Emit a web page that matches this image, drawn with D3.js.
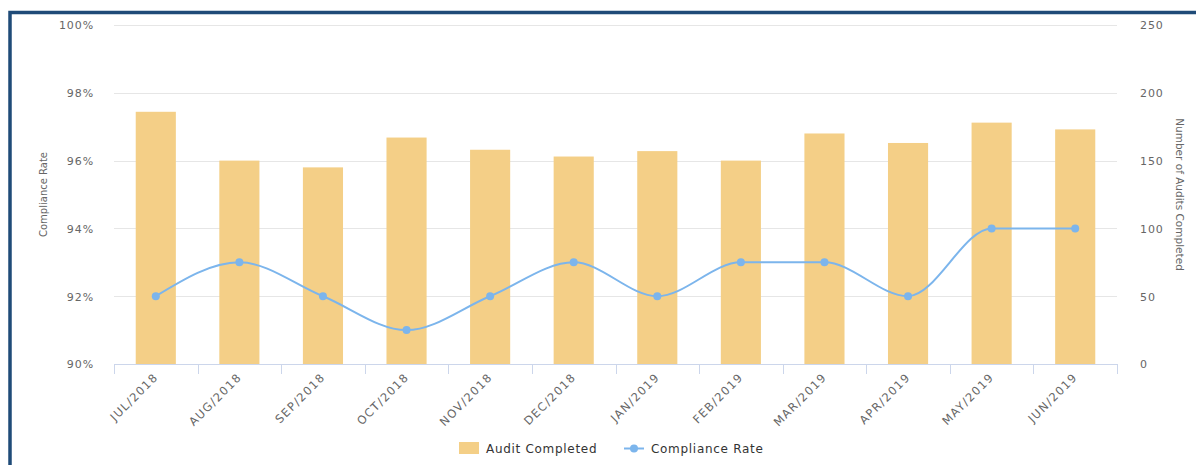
<!DOCTYPE html>
<html>
<head>
<meta charset="utf-8">
<script src="https://cdn.jsdelivr.net/npm/d3@7"></script>
<style>
  body { margin: 0; background: #fff; }
  svg { display: block; }
  text { font-family: "DejaVu Sans", sans-serif; }
</style>
</head>
<body>
<div id="chart"></div>
<script>
// data
const months = ["JUL/2018", "AUG/2018", "SEP/2018", "OCT/2018", "NOV/2018", "DEC/2018",
                "JAN/2019", "FEB/2019", "MAR/2019", "APR/2019", "MAY/2019", "JUN/2019"];
const auditsCompleted = [186, 150, 145, 167, 158, 153, 157, 150, 170, 163, 178, 173];
const complianceRate = [92, 93, 92, 91, 92, 93, 92, 93, 93, 92, 94, 94];
const rateTicks = [90, 92, 94, 96, 98, 100];
const auditTicks = [0, 50, 100, 150, 200, 250];

const width = 1196, height = 465;
const margin = { top: 25, right: 79, bottom: 101, left: 114 };

const svg = d3.select("#chart")
    .append("svg")
    .attr("width", width)
    .attr("height", height);

// dark frame around the widget (only left/top edges visible)
svg.append("rect")
    .attr("x", 10).attr("y", 12.5)
    .attr("width", width + 20).attr("height", height + 20)
    .attr("fill", "none")
    .attr("stroke", "#1f4b78")
    .attr("stroke-width", 3.5);

const x = d3.scaleBand()
    .domain(months)
    .range([margin.left, width - margin.right])
    .paddingInner(0.52)
    .paddingOuter(0.26);
const xOuter = d3.scaleBand()
    .domain(months)
    .range([margin.left, width - margin.right]);

const yRate = d3.scaleLinear()
    .domain([90, 100])
    .range([height - margin.bottom, margin.top]);
const yAudit = d3.scaleLinear()
    .domain([0, 250])
    .range([height - margin.bottom, margin.top]);

// grid lines
svg.append("g")
    .selectAll("line")
    .data(rateTicks.slice(1))
    .enter()
    .append("line")
    .attr("x1", margin.left)
    .attr("x2", width - margin.right)
    .attr("y1", d => Math.round(yRate(d)) + 0.5)
    .attr("y2", d => Math.round(yRate(d)) + 0.5)
    .attr("stroke", "#e6e6e6");

// bars
svg.append("g")
    .selectAll("rect")
    .data(auditsCompleted)
    .enter()
    .append("rect")
    .attr("x", (d, i) => x(months[i]))
    .attr("width", x.bandwidth())
    .attr("y", d => yAudit(d))
    .attr("height", d => yAudit(0) - yAudit(d))
    .attr("fill", "#f4cf87");

// x axis
const xAxis = d3.axisBottom(xOuter).tickSize(0);
const gx = svg.append("g")
    .attr("transform", `translate(0, ${height - margin.bottom})`)
    .call(xAxis);
gx.select(".domain").attr("stroke", "#ccd6eb");
gx.selectAll("text")
    .attr("fill", "#666")
    .attr("font-size", 11.5)
    .attr("letter-spacing", 1.3)
    .attr("text-anchor", "end")
    .attr("y", 0)
    .attr("dy", 0)
    .attr("transform", "translate(3, 14) rotate(-45)");
gx.selectAll(".boundary")
    .data(months.concat(["end"]))
    .enter()
    .append("line")
    .attr("class", "boundary")
    .attr("x1", (d, i) => Math.round(margin.left + i * xOuter.step()) + 0.5)
    .attr("x2", (d, i) => Math.round(margin.left + i * xOuter.step()) + 0.5)
    .attr("y1", 0)
    .attr("y2", 10)
    .attr("stroke", "#ccd6eb");

// left axis
const gl = svg.append("g")
    .attr("transform", `translate(${margin.left - 17}, 0)`)
    .call(d3.axisLeft(yRate).tickValues(rateTicks).tickSize(0).tickFormat(d => d + "%"));
gl.select(".domain").remove();
gl.selectAll("text")
    .attr("fill", "#666")
    .attr("font-size", 11)
    .attr("letter-spacing", 0.9)
    .attr("dy", "0.35em");

// right axis
const gr = svg.append("g")
    .attr("transform", `translate(${width - margin.right + 20}, 0)`)
    .call(d3.axisRight(yAudit).tickValues(auditTicks).tickSize(0));
gr.select(".domain").remove();
gr.selectAll("text")
    .attr("fill", "#666")
    .attr("font-size", 11)
    .attr("letter-spacing", 0.9)
    .attr("dy", "0.35em");

// axis titles
const midY = (margin.top + height - margin.bottom) / 2;
svg.append("text")
    .attr("transform", `translate(47, ${midY}) rotate(-90)`)
    .attr("text-anchor", "middle")
    .attr("font-size", 10)
    .attr("fill", "#666")
    .text("Compliance Rate");
svg.append("text")
    .attr("transform", `translate(1176, ${midY}) rotate(90)`)
    .attr("text-anchor", "middle")
    .attr("font-size", 10.5)
    .attr("fill", "#666")
    .text("Number of Audits Completed");

// compliance line
const line = d3.line()
    .x((d, i) => xOuter(months[i]) + xOuter.bandwidth() / 2)
    .y(d => yRate(d))
    .curve(d3.curveMonotoneX);
svg.append("path")
    .attr("d", line(complianceRate))
    .attr("fill", "none")
    .attr("stroke", "#7cb5ec")
    .attr("stroke-width", 2);
svg.append("g")
    .selectAll("circle")
    .data(complianceRate)
    .enter()
    .append("circle")
    .attr("cx", (d, i) => xOuter(months[i]) + xOuter.bandwidth() / 2)
    .attr("cy", d => yRate(d))
    .attr("r", 4)
    .attr("fill", "#7cb5ec");

// legend
const legend = svg.append("g").attr("transform", "translate(459, 442)");
legend.append("rect")
    .attr("width", 20).attr("height", 12)
    .attr("fill", "#f4cf87");
legend.append("text")
    .attr("x", 27).attr("y", 10.5)
    .attr("font-size", 12)
    .attr("fill", "#333")
    .attr("letter-spacing", 0.7)
    .text("Audit Completed");
legend.append("line")
    .attr("x1", 165).attr("x2", 185)
    .attr("y1", 6.5).attr("y2", 6.5)
    .attr("stroke", "#7cb5ec").attr("stroke-width", 2);
legend.append("circle")
    .attr("cx", 175).attr("cy", 6.5).attr("r", 4)
    .attr("fill", "#7cb5ec");
legend.append("text")
    .attr("x", 192).attr("y", 10.5)
    .attr("font-size", 12)
    .attr("fill", "#333")
    .attr("letter-spacing", 0.7)
    .text("Compliance Rate");
</script>
</body>
</html>
